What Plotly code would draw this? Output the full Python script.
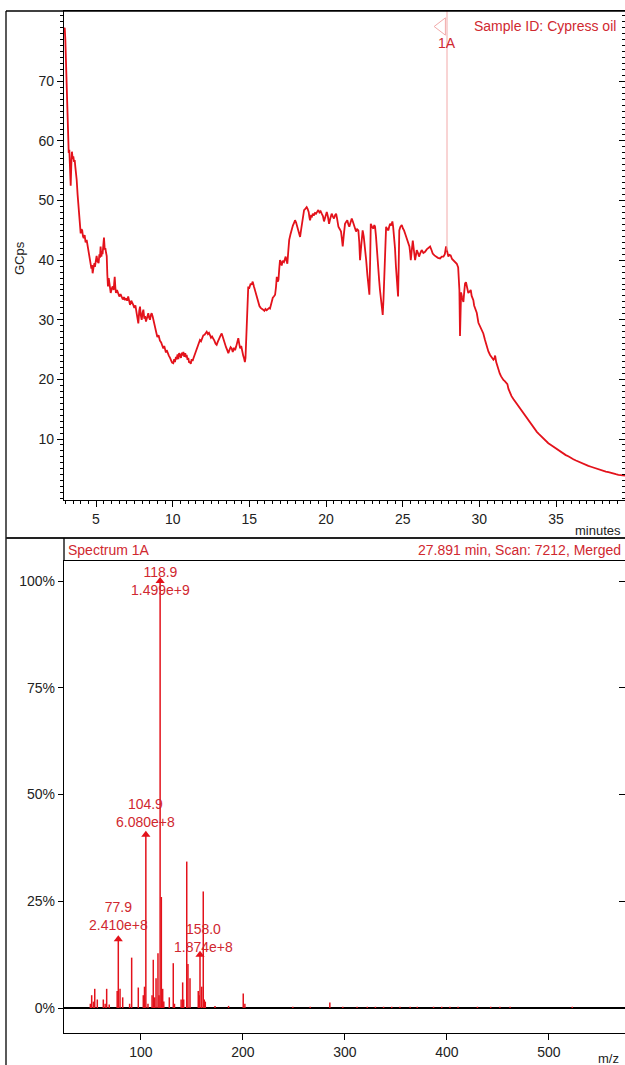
import plotly.graph_objects as go

# ---------------- chromatogram (top panel) ----------------
time_min = [2.92, 2.96, 3.00, 3.04, 3.08, 3.13, 3.18, 3.22, 3.26, 3.30, 3.35, 3.39, 3.43, 3.48, 3.52, 3.57, 3.61, 3.65, 3.70, 3.74,
            3.80, 3.85, 3.91, 3.96, 4.00, 4.05, 4.10, 4.15, 4.20, 4.26, 4.32, 4.39, 4.45, 4.52, 4.58, 4.65, 4.70, 4.74, 4.78, 4.84,
            4.90, 4.93, 5.00, 5.04, 5.10, 5.17, 5.22, 5.26, 5.30, 5.35, 5.40, 5.43, 5.48, 5.52, 5.57, 5.61, 5.66, 5.70, 5.74, 5.78,
            5.83, 5.87, 5.92, 5.96, 6.02, 6.09, 6.15, 6.22, 6.26, 6.30, 6.37, 6.45, 6.52, 6.60, 6.67, 6.75, 6.82, 6.89, 6.96, 7.03,
            7.10, 7.16, 7.22, 7.30, 7.37, 7.43, 7.50, 7.57, 7.65, 7.70, 7.76, 7.82, 7.87, 7.92, 7.98, 8.04, 8.09, 8.15, 8.20, 8.26,
            8.33, 8.41, 8.46, 8.52, 8.58, 8.63, 8.70, 8.77, 8.85, 8.92, 9.00, 9.08, 9.17, 9.25, 9.32, 9.39, 9.45, 9.50, 9.56, 9.61,
            9.68, 9.75, 9.83, 9.90, 9.96, 10.04, 10.10, 10.15, 10.20, 10.26, 10.32, 10.37, 10.42, 10.48, 10.54, 10.60, 10.65, 10.70, 10.76, 10.82,
            10.87, 10.91, 10.97, 11.02, 11.07, 11.13, 11.18, 11.24, 11.30, 11.35, 11.42, 11.50, 11.57, 11.63, 11.70, 11.78, 11.85, 11.92, 12.00, 12.08,
            12.15, 12.22, 12.30, 12.37, 12.44, 12.50, 12.57, 12.65, 12.72, 12.80, 12.87, 12.94, 13.01, 13.09, 13.15, 13.20, 13.27, 13.34, 13.41, 13.48,
            13.56, 13.63, 13.70, 13.78, 13.85, 13.92, 14.00, 14.07, 14.14, 14.20, 14.28, 14.34, 14.40, 14.47, 14.53, 14.60, 14.66, 14.71, 14.75, 14.78,
            14.82, 14.87, 14.93, 14.98, 15.04, 15.09, 15.15, 15.22, 15.30, 15.37, 15.45, 15.52, 15.59, 15.66, 15.74, 15.81, 15.90, 15.98, 16.05, 16.13,
            16.22, 16.30, 16.35, 16.42, 16.46, 16.53, 16.60, 16.68, 16.74, 16.79, 16.85, 16.90, 16.95, 17.00, 17.06, 17.11, 17.18, 17.26, 17.32, 17.37,
            17.42, 17.48, 17.54, 17.60, 17.68, 17.76, 17.84, 17.91, 17.98, 18.05, 18.13, 18.20, 18.26, 18.31, 18.37, 18.42, 18.50, 18.57, 18.65, 18.74,
            18.80, 18.87, 18.92, 18.96, 19.02, 19.08, 19.14, 19.20, 19.28, 19.35, 19.42, 19.50, 19.57, 19.65, 19.72, 19.80, 19.87, 19.95, 20.05, 20.12,
            20.20, 20.28, 20.37, 20.45, 20.52, 20.60, 20.66, 20.72, 20.81, 20.90, 20.98, 21.04, 21.09, 21.16, 21.24, 21.31, 21.39, 21.46, 21.52, 21.60,
            21.68, 21.75, 21.83, 21.90, 21.96, 22.03, 22.11, 22.17, 22.22, 22.30, 22.39, 22.46, 22.54, 22.62, 22.70, 22.77, 22.83, 22.88, 22.92, 23.00,
            23.09, 23.15, 23.20, 23.26, 23.30, 23.36, 23.42, 23.47, 23.52, 23.58, 23.64, 23.70, 23.75, 23.80, 23.86, 23.92, 24.00, 24.07, 24.12, 24.18,
            24.25, 24.33, 24.38, 24.44, 24.50, 24.56, 24.61, 24.66, 24.70, 24.74, 24.78, 24.85, 24.94, 25.02, 25.09, 25.18, 25.27, 25.35, 25.44, 25.49,
            25.53, 25.60, 25.66, 25.74, 25.81, 25.87, 25.92, 26.00, 26.07, 26.15, 26.24, 26.35, 26.46, 26.57, 26.68, 26.79, 26.88, 26.96, 27.07, 27.18,
            27.30, 27.44, 27.55, 27.66, 27.75, 27.83, 27.89, 27.98, 28.05, 28.13, 28.22, 28.31, 28.42, 28.53, 28.62, 28.68, 28.70, 28.74, 28.77, 28.81,
            28.87, 28.92, 28.96, 29.02, 29.07, 29.13, 29.20, 29.28, 29.36, 29.44, 29.50, 29.56, 29.61, 29.66, 29.74, 29.83, 29.94, 30.00, 30.10, 30.18,
            30.26, 30.37, 30.48, 30.59, 30.70, 30.81, 30.92, 30.98, 31.03, 31.10, 31.17, 31.24, 31.33, 31.42, 31.50, 31.57, 31.66, 31.75, 31.83, 31.90,
            32.00, 32.10, 32.22, 32.33, 32.44, 32.55, 32.66, 32.77, 32.87, 32.98, 33.09, 33.20, 33.31, 33.42, 33.53, 33.64, 33.75, 33.86, 33.97, 34.07,
            34.18, 34.34, 34.50, 34.67, 34.83, 35.00, 35.16, 35.32, 35.48, 35.64, 35.80, 35.97, 36.13, 36.30, 36.46, 36.62, 36.79, 36.95, 37.11, 37.28,
            37.44, 37.60, 37.76, 37.93, 38.09, 38.25, 38.42, 38.58, 38.74, 38.90, 39.07, 39.23, 39.40, 39.50]
gcps = [78.5, 79.0, 77.0, 73.6, 68.0, 63.5, 60.0, 58.0, 58.5, 55.0, 52.5, 56.0, 58.2, 57.0, 57.4, 56.5, 56.8, 55.7, 54.8, 53.5,
        51.0, 49.0, 46.7, 45.0, 44.5, 45.2, 45.0, 44.0, 43.7, 44.2, 43.0, 43.4, 42.5, 41.7, 40.5, 39.5, 38.6, 39.2, 37.8, 38.8,
        39.5, 38.9, 40.2, 40.7, 39.8, 39.5, 41.0, 40.4, 42.3, 40.6, 41.5, 41.0, 42.6, 43.8, 41.8, 42.0, 41.2, 40.7, 37.5, 35.6,
        37.0, 36.1, 35.0, 34.5, 35.2, 35.6, 35.0, 37.2, 35.5, 34.5, 35.0, 34.5, 33.9, 34.3, 33.9, 33.4, 33.8, 33.3, 33.6, 33.2,
        33.9, 33.0, 32.5, 33.2, 32.6, 32.5, 32.0, 32.4, 31.1, 30.5, 29.4, 31.5, 32.2, 30.8, 30.0, 31.2, 31.7, 30.2, 30.6, 29.7,
        30.5, 31.1, 30.4, 30.0, 30.8, 31.1, 30.5, 29.8, 29.1, 28.0, 27.1, 27.4, 26.5, 26.2, 25.7, 25.2, 25.6, 24.9, 24.5, 24.9,
        24.2, 24.0, 23.6, 23.2, 22.8, 22.7, 23.4, 22.9, 23.6, 23.5, 24.2, 23.4, 24.4, 24.1, 23.6, 24.5, 24.0, 24.6, 23.8, 24.4,
        23.7, 24.1, 23.3, 23.6, 22.8, 23.0, 22.6, 23.4, 23.1, 23.5, 24.0, 24.5, 24.9, 25.5, 26.0, 26.6, 26.4, 27.0, 27.4, 27.5,
        27.9, 28.0, 27.6, 27.8, 27.4, 27.0, 27.2, 26.9, 26.5, 26.0, 25.8, 26.3, 26.8, 27.2, 27.5, 27.7, 27.0, 26.5, 26.0, 25.4,
        24.9, 24.4, 24.9, 25.4, 25.2, 24.6, 25.3, 24.9, 25.5, 26.2, 26.9, 26.0, 25.2, 25.6, 24.6, 24.0, 23.5, 22.9, 23.6, 26.0,
        30.0, 33.5, 35.6, 35.2, 35.8, 36.1, 35.9, 36.4, 35.6, 35.0, 34.0, 33.3, 32.8, 32.3, 32.0, 31.9, 31.7, 31.5, 31.8, 31.6,
        31.9, 32.0, 31.9, 32.6, 33.3, 33.7, 33.9, 34.2, 35.5, 37.2, 36.4, 36.7, 38.5, 40.0, 39.6, 39.1, 39.9, 39.7, 40.2, 40.6,
        40.0, 39.4, 41.5, 43.4, 44.3, 45.3, 45.8, 46.2, 46.7, 46.3, 45.6, 44.8, 44.4, 43.9, 45.0, 46.1, 47.5, 48.4, 48.6, 48.9,
        48.6, 48.1, 47.2, 46.7, 47.4, 47.3, 47.8, 47.5, 47.9, 47.8, 48.1, 48.4, 48.0, 48.2, 47.8, 47.4, 46.5, 47.3, 48.1, 47.4,
        46.1, 47.0, 47.8, 47.3, 47.0, 47.6, 47.8, 47.0, 45.6, 45.2, 44.8, 43.5, 42.3, 44.2, 46.1, 46.4, 46.7, 46.0, 45.6, 46.3,
        47.0, 46.5, 45.9, 45.3, 44.8, 45.2, 45.0, 43.0, 40.0, 42.5, 45.0, 44.0, 42.3, 40.0, 37.5, 35.5, 34.2, 40.0, 46.1, 45.6,
        45.3, 45.9, 45.6, 44.0, 42.3, 40.0, 38.0, 36.5, 35.0, 33.5, 32.0, 30.8, 33.5, 36.7, 41.5, 45.6, 45.2, 45.0, 45.6, 46.1,
        45.8, 46.5, 45.6, 44.3, 42.0, 39.0, 36.7, 35.0, 33.9, 39.0, 45.0, 45.6, 45.9, 45.3, 45.0, 44.3, 43.6, 43.0, 42.3, 41.2,
        40.0, 41.8, 43.3, 41.5, 40.0, 40.9, 41.7, 41.2, 40.6, 41.2, 41.7, 41.2, 41.4, 41.8, 42.0, 42.3, 41.7, 41.1, 40.8, 40.6,
        40.4, 40.3, 40.6, 40.6, 41.0, 42.3, 41.6, 40.6, 40.9, 40.8, 40.2, 40.0, 39.7, 39.4, 38.8, 37.0, 35.0, 27.3, 31.0, 34.6,
        33.8, 33.3, 33.0, 34.8, 36.1, 36.3, 35.2, 34.5, 34.7, 35.0, 34.0, 33.6, 33.3, 32.4, 31.8, 31.2, 29.5, 29.2, 28.5, 28.2,
        27.7, 26.6, 25.5, 24.7, 24.1, 23.6, 23.3, 23.5, 24.0, 22.9, 22.2, 21.6, 21.0, 20.5, 20.1, 19.9, 19.7, 19.4, 19.2, 18.4,
        17.6, 17.2, 16.7, 16.3, 15.9, 15.4, 15.0, 14.6, 14.3, 13.9, 13.4, 13.0, 12.6, 12.2, 11.9, 11.5, 11.2, 10.9, 10.6, 10.3,
        10.1, 9.7, 9.3, 9.0, 8.7, 8.4, 8.1, 7.9, 7.6, 7.3, 7.1, 6.8, 6.6, 6.4, 6.2, 6.0, 5.9, 5.7, 5.5, 5.35,
        5.2, 5.05, 4.9, 4.8, 4.7, 4.55, 4.45, 4.3, 4.2, 4.1, 4.0, 3.95, 3.9, 3.85]
gc_yticks = [10, 20, 30, 40, 50, 60, 70]
gc_xticks = [5, 10, 15, 20, 25, 30, 35]
marker_time = 27.891
marker_value = 41.6
marker_top = 81.8
marker_label = "1A"

# ---------------- mass spectrum (bottom panel) ----------------
mz = [50.5, 51.8, 53.5, 54.8, 57.3, 63.2, 65.0, 66.5, 69.0, 76.8, 77.9, 79.6, 82.2, 89.0, 91.0, 97.5, 102.4, 103.6,
      104.9, 107.0, 111.0, 112.2, 113.5, 114.9, 116.8, 117.8, 118.9, 120.1, 121.4, 122.5, 127.9, 131.8, 133.0, 139.5,
      141.0, 142.0, 145.0, 146.2, 148.2, 156.3, 157.2, 158.0, 159.7, 161.2, 162.2, 163.2, 172.7, 186.0, 200.4, 202.0,
      249.0, 266.0, 285.3, 298.0, 312.0, 322.0, 330.0, 338.0, 346.0, 354.0, 364.0, 371.0, 387.0, 395.0, 403.0, 411.0,
      430.0, 443.0, 452.0, 462.0, 523.0]
rel_int = [1.0, 3.0, 1.5, 4.5, 2.0, 2.0, 1.0, 4.5, 0.8, 4.0, 16.1, 4.5, 2.5, 1.0, 11.8, 4.8, 3.0, 5.0,
           40.6, 1.0, 3.0, 11.3, 2.5, 7.0, 12.8, 3.0, 100.0, 26.0, 4.5, 1.5, 2.5, 10.5, 1.0, 2.0,
           6.0, 2.0, 34.3, 10.3, 7.0, 4.0, 3.0, 12.5, 5.0, 27.3, 2.0, 1.5, 0.5, 0.5, 3.4, 1.0,
           0.3, 0.3, 1.3, 0.3, 0.3, 0.3, 0.3, 0.3, 0.3, 0.3, 0.3, 0.3, 0.3, 0.3, 0.3, 0.3,
           0.3, 0.3, 0.3, 0.3, 0.3]
label_mz = [118.9, 104.9, 77.9, 158.0]
label_int = [100.0, 40.6, 16.1, 12.5]
label_abund = ["1.499e+9", "6.080e+8", "2.410e+8", "1.874e+8"]
ms_yticks = [0, 25, 50, 75, 100]
ms_yticktext = ["0%", "25%", "50%", "75%", "100%"]
ms_xticks = [100, 200, 300, 400, 500]

RED = "#e3121b"
TXT_RED = "#d0282f"
FONT = "Liberation Sans Narrow, Arial Narrow, Liberation Sans, Arial, sans-serif"

fig = go.Figure()

# chromatogram
fig.add_trace(go.Scatter(x=time_min, y=gcps, mode="lines", line=dict(color=RED, width=1.8),
                         xaxis="x", yaxis="y", showlegend=False, hoverinfo="skip"))
# marker line at scan 1A
fig.add_trace(go.Scatter(x=[marker_time, marker_time], y=[marker_value, marker_top], mode="lines",
                         line=dict(color="#f2a9a9", width=1), xaxis="x", yaxis="y",
                         showlegend=False, hoverinfo="skip"))
fig.add_trace(go.Scatter(x=[marker_time - 0.35], y=[marker_top - 2.6], mode="markers",
                         marker=dict(symbol="triangle-left-open", size=15, color="#f2a9a9",
                                     line=dict(width=1, color="#f2a9a9")),
                         xaxis="x", yaxis="y", showlegend=False, hoverinfo="skip"))
# dummy trace for right-side tick axis (top)
fig.add_trace(go.Scatter(x=[time_min[-1]], y=[gcps[-1]], mode="markers", marker=dict(opacity=0),
                         xaxis="x", yaxis="y3", showlegend=False, hoverinfo="skip"))

# spectrum sticks
sx, sy = [], []
for m, v in zip(mz, rel_int):
    sx += [m, m, None]
    sy += [0, v, None]
fig.add_trace(go.Scatter(x=sx, y=sy, mode="lines", line=dict(color=RED, width=1.5),
                         xaxis="x2", yaxis="y2", showlegend=False, hoverinfo="skip"))
fig.add_trace(go.Scatter(x=label_mz, y=label_int, mode="markers",
                         marker=dict(symbol="triangle-up", size=8, color=RED),
                         xaxis="x2", yaxis="y2", showlegend=False, hoverinfo="skip"))
fig.add_trace(go.Scatter(x=[mz[-1]], y=[rel_int[-1]], mode="markers", marker=dict(opacity=0),
                         xaxis="x2", yaxis="y4", showlegend=False, hoverinfo="skip"))

ax_common = dict(showline=True, linecolor="black", linewidth=1.3, ticks="outside", tickcolor="black",
                 showgrid=False, zeroline=False, tickfont=dict(family=FONT, size=14, color="#222"))

top_dom = [(1065 - 500) / 1065, (1065 - 11) / 1065]
bot_dom = [(1065 - 1033) / 1065, (1065 - 561) / 1065]
xdom = [64 / 625, 1.0]

fig.update_layout(
    width=625, height=1065, margin=dict(l=0, r=0, t=0, b=0),
    paper_bgcolor="white", plot_bgcolor="white",
    font=dict(family=FONT, size=14, color="#222"),
    xaxis=dict(ax_common, domain=xdom, anchor="y", range=[2.913, 39.5], tickmode="array",
               tickvals=gc_xticks, ticklen=6, mirror=True,
               minor=dict(dtick=0.5, tick0=0, ticklen=3, ticks="outside", tickcolor="black")),
    yaxis=dict(ax_common, domain=top_dom, anchor="x", range=[-0.23, 81.8], tickmode="array",
               tickvals=gc_yticks, ticklen=6,
               minor=dict(dtick=1, tick0=0, ticklen=3, ticks="outside", tickcolor="black")),
    yaxis3=dict(overlaying="y", side="right", anchor="x", range=[-0.23, 81.8], showline=False,
                showgrid=False, zeroline=False, showticklabels=False, ticks="inside", ticklen=6,
                tickcolor="black", tickmode="array", tickvals=gc_yticks,
                minor=dict(dtick=1, tick0=0, ticklen=3, ticks="inside", tickcolor="black")),
    xaxis2=dict(ax_common, domain=xdom, anchor="y2", range=[24.66, 574.7], tickmode="array",
                tickvals=ms_xticks, ticklen=6, mirror=True),
    yaxis2=dict(ax_common, domain=bot_dom, anchor="x2", range=[-5.85, 104.7], tickmode="array",
                tickvals=ms_yticks, ticktext=ms_yticktext, ticklen=5,
                zeroline=True, zerolinecolor="black", zerolinewidth=1.5),
    yaxis4=dict(overlaying="y2", side="right", anchor="x2", range=[-5.85, 104.7], showline=False,
                showgrid=False, zeroline=False, showticklabels=False, ticks="inside", ticklen=6,
                tickcolor="black", tickmode="array", tickvals=ms_yticks[1:]),
)

# frame lines
frame = dict(type="line", xref="paper", yref="paper", line=dict(color="black", width=1.3))
fig.add_shape(frame, x0=6 / 625, x1=6 / 625, y0=0, y1=(1065 - 11) / 1065)
fig.add_shape(frame, x0=6 / 625, x1=1, y0=(1065 - 11) / 1065, y1=(1065 - 11) / 1065)
fig.add_shape(dict(frame, line=dict(color="#222", width=2)), x0=6 / 625, x1=1,
              y0=(1065 - 538) / 1065, y1=(1065 - 538) / 1065)
fig.add_shape(frame, x0=64 / 625, x1=64 / 625, y0=(1065 - 561) / 1065, y1=(1065 - 538) / 1065)

def txt(text, x, y, size=14, color="#222", xanchor="center", yanchor="middle", angle=0):
    fig.add_annotation(text=text, x=x, y=y, xref="paper", yref="paper", showarrow=False,
                       xanchor=xanchor, yanchor=yanchor, textangle=angle,
                       font=dict(family=FONT, size=size, color=color))

txt("GCps", 19 / 625, (1065 - 258) / 1065, size=13, angle=-90)
txt("Sample ID: Cypress oil", 472 / 625, (1065 - 26) / 1065, size=14, color=TXT_RED, xanchor="left")
txt(marker_label, 447 / 625, (1065 - 43) / 1065, size=14, color=TXT_RED)
txt("minutes", 598 / 625, (1065 - 530) / 1065, size=13)
txt("Spectrum 1A", 66 / 625, (1065 - 550) / 1065, size=14, color=TXT_RED, xanchor="left")
txt("27.891 min, Scan: 7212, Merged", 623 / 625, (1065 - 550) / 1065, size=14, color=TXT_RED, xanchor="right")
txt("m/z", 608 / 625, (1065 - 1058) / 1065, size=13)

# peak labels
shifts = [(0, "middle", 0), (0, "bottom", 3), (0, "bottom", 4), (3, "bottom", -2)]
for m, v, a, (xs, ya, ys) in zip(label_mz, label_int, label_abund, shifts):
    fig.add_annotation(text=f"{m:.1f}<br>{a}", x=m, y=v, xref="x2", yref="y2", showarrow=False,
                       xanchor="center", yanchor=ya, xshift=xs, yshift=ys,
                       font=dict(family=FONT, size=14, color=TXT_RED))

fig.write_html("out.html", config={"displayModeBar": False},
               post_script="document.body.style.margin='0px';document.body.style.overflow='hidden';")
